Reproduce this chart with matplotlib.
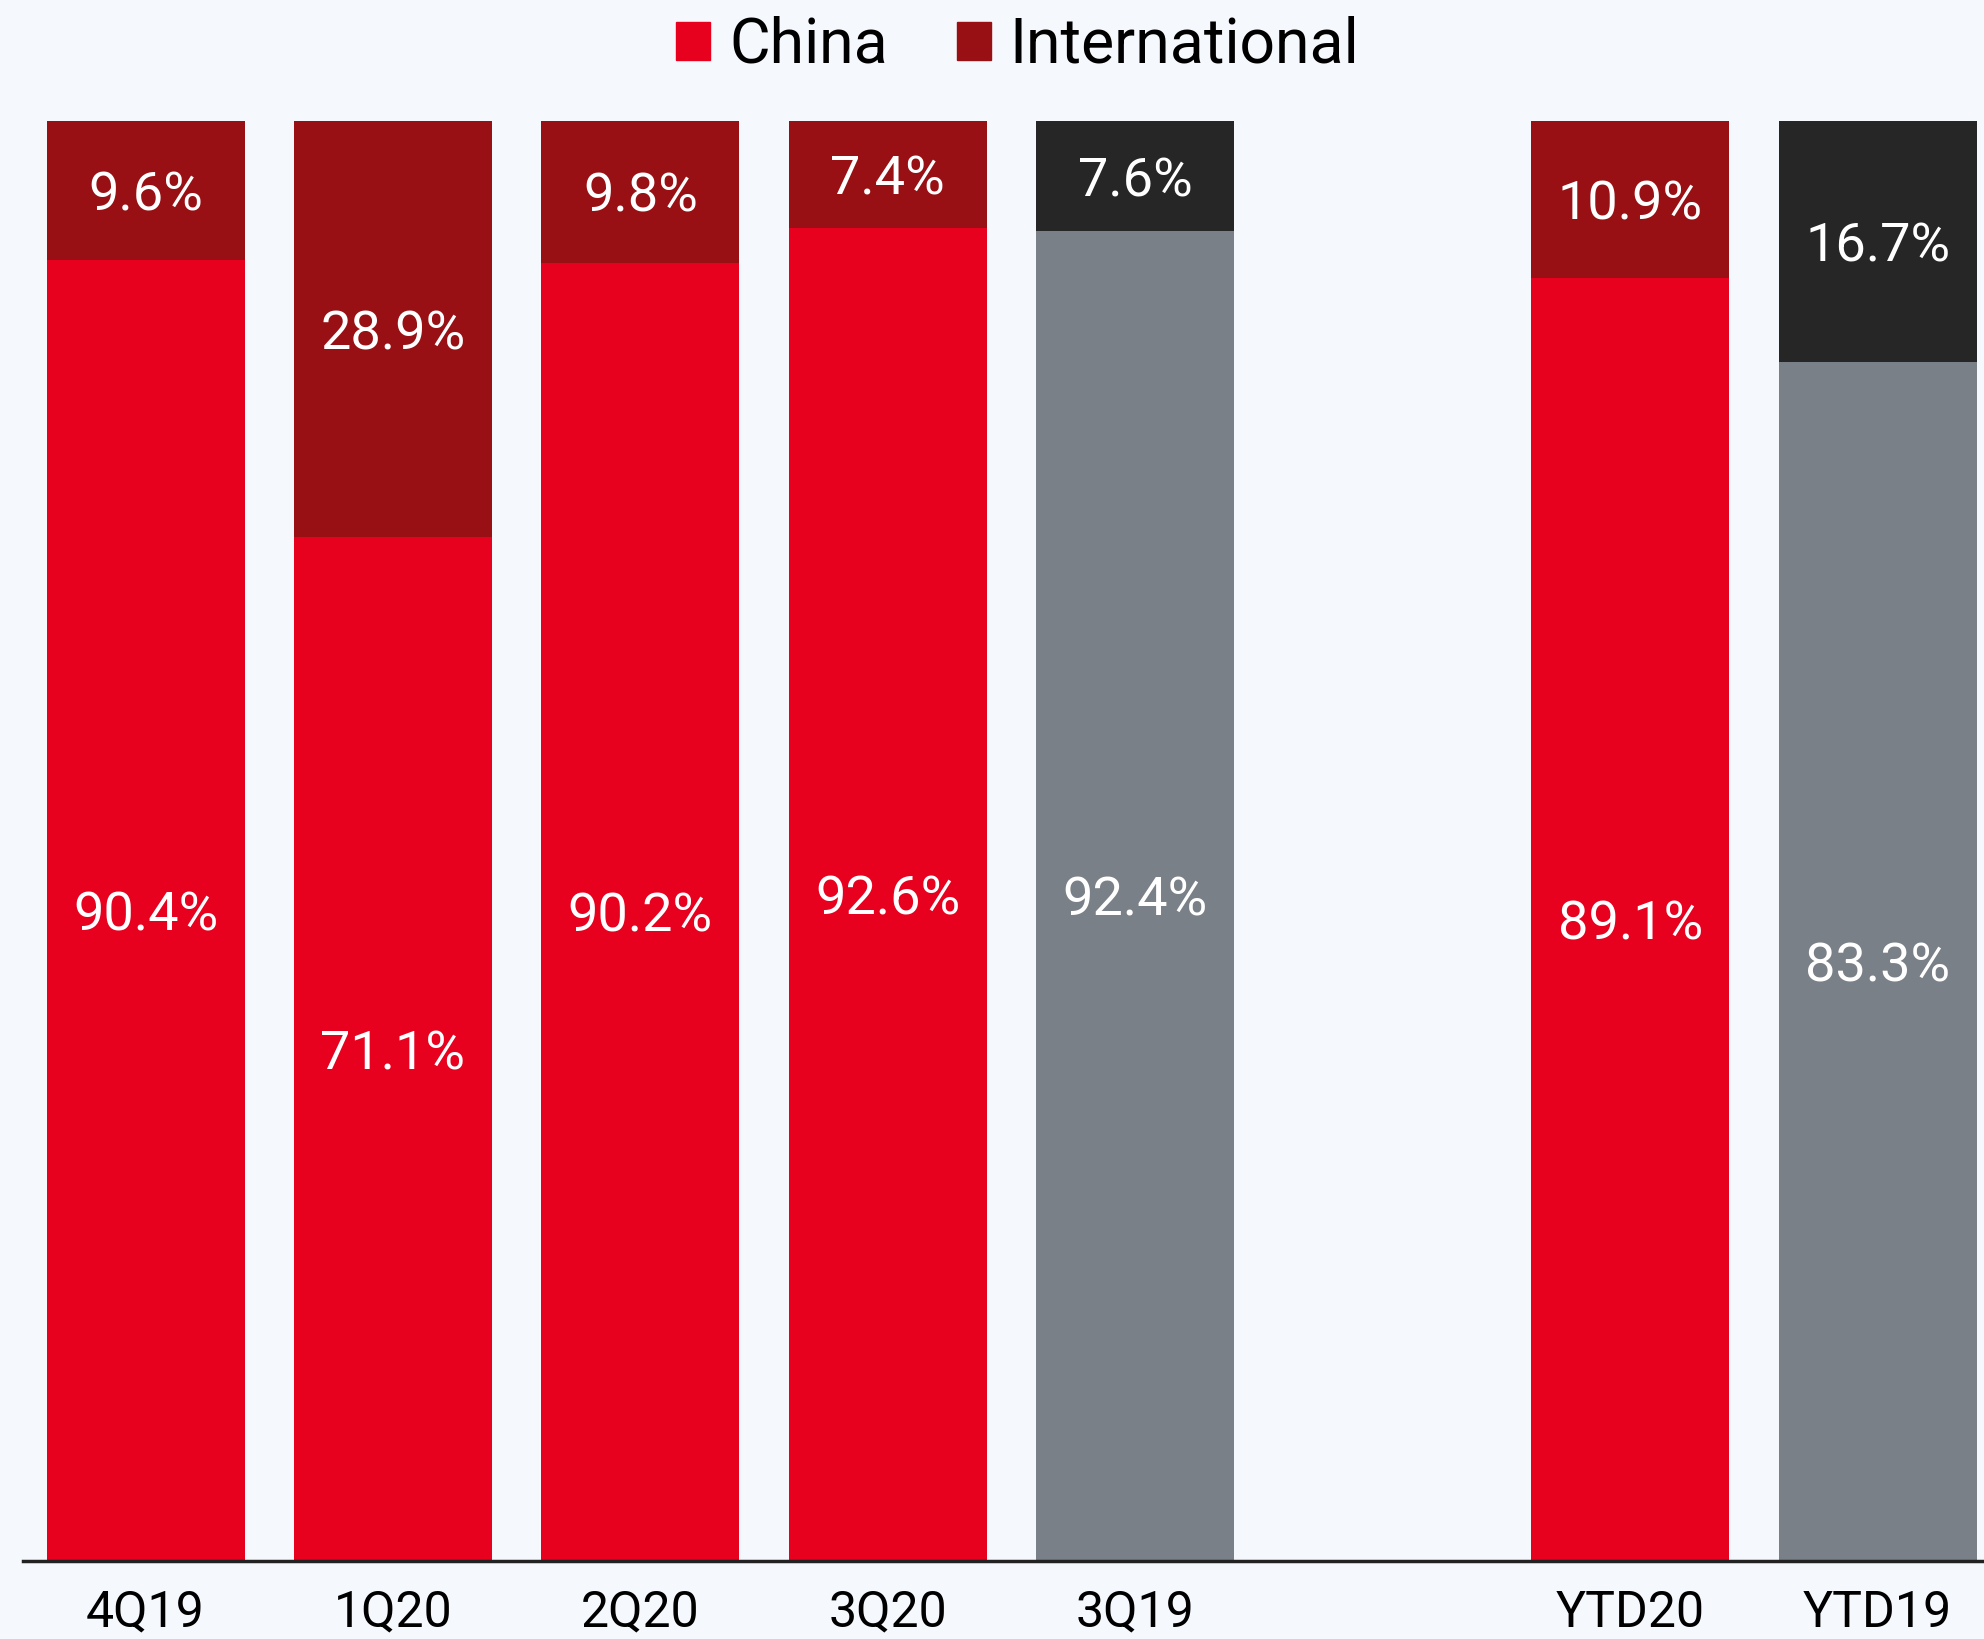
import numpy as np
import matplotlib
matplotlib.use('Agg')
import matplotlib.pyplot as plt
from matplotlib.patches import Patch

plt.rcParams['font.family'] = ['Roboto', 'DejaVu Sans']

# revenue split by region, percent
periods = ['4Q19', '1Q20', '2Q20', '3Q20', '3Q19', 'YTD20', 'YTD19']
slots = [0, 1, 2, 3, 4, 6, 7]
china = [90.4, 71.1, 90.2, 92.6, 92.4, 89.1, 83.3]
intl = [9.6, 28.9, 9.8, 7.4, 7.6, 10.9, 16.7]
prior_year = [False, False, False, False, True, False, True]

RED = '#e8001f'
DARK_RED = '#981014'
GREY = '#7a8087'
CHARCOAL = '#262626'
BG = '#f5f8fd'

fig = plt.figure(figsize=(19.84, 16.39), dpi=100, facecolor=BG)
ax = fig.add_axes([0.0115, 0.0476, 0.9885, 0.8783], facecolor=BG)

x = np.array(slots)
c_low = [GREY if p else RED for p in prior_year]
c_high = [CHARCOAL if p else DARK_RED for p in prior_year]

ax.bar(x, china, width=0.8, color=c_low, linewidth=0)
ax.bar(x, intl, width=0.8, bottom=china, color=c_high, linewidth=0)

for xi, c, i in zip(x, china, intl):
    ax.text(xi, c / 2, '%.1f%%' % c, ha='center', va='center_baseline',
            color='white', fontsize=39)
    ax.text(xi, c + i / 2, '%.1f%%' % i, ha='center', va='center_baseline',
            color='white', fontsize=39)

ax.set_xlim(-0.496, 7.43)
ax.set_ylim(0, 100)
ax.set_xticks(x)
ax.set_xticklabels(periods, fontsize=36)
ax.tick_params(axis='x', length=0, pad=20)
ax.set_yticks([])
for s in ['top', 'right', 'left']:
    ax.spines[s].set_visible(False)
ax.spines['bottom'].set_linewidth(2.5)
ax.spines['bottom'].set_color('#222222')

handles = [Patch(color=RED, label='China'), Patch(color=DARK_RED, label='International')]
fig.legend(handles=handles, loc='center', bbox_to_anchor=(0.513, 0.972), ncol=2,
           frameon=False, fontsize=45, handlelength=0.55, handleheight=0.55,
           handletextpad=0.3, columnspacing=1.1)

fig.savefig('out.png', dpi=100, facecolor=BG)
